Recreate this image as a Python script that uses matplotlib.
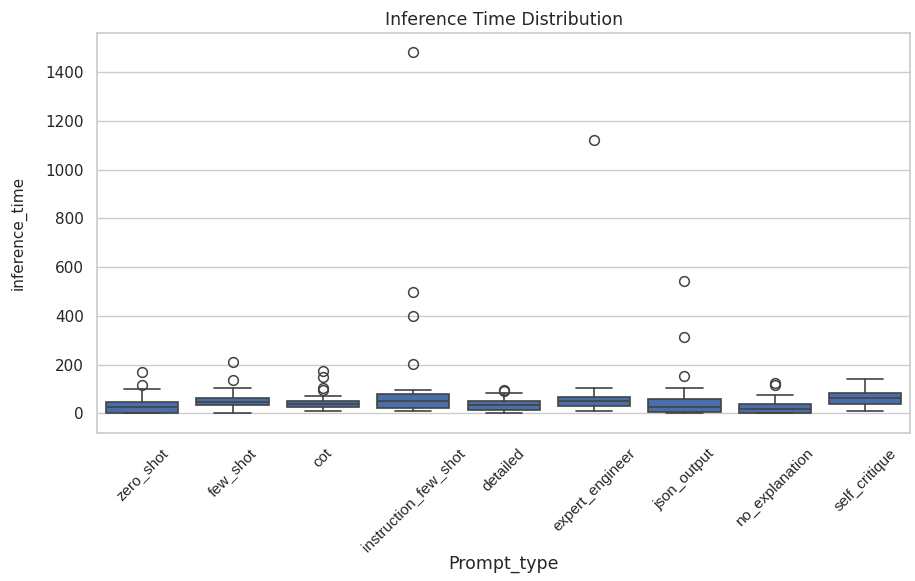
import matplotlib
matplotlib.use('AGG')
import matplotlib.pyplot as plt
import seaborn as sns

# Box statistics (inference time per prompt type)
prompt_types = ['zero_shot', 'few_shot', 'cot', 'instruction_few_shot', 'detailed',
                'expert_engineer', 'json_output', 'no_explanation', 'self_critique']
q1 = [2, 33, 26, 23, 12, 29, 5, 1, 37]
medians = [25, 48, 38, 50, 33, 50, 28, 18, 62]
q3 = [46, 63, 50, 81, 50, 67, 57, 37, 85]
whisker_low = [0, 2, 9, 8, 0, 8, 0, 0, 9]
whisker_high = [98, 105, 71, 97, 83, 104, 105, 77, 139]
outliers = [
    [115, 170],
    [138, 210],
    [97, 105, 150, 175],
    [201, 398, 496, 1484],
    [91, 95],
    [1120],
    [152, 312, 541],
    [115, 125],
    [],
]

sns.set_theme(style='whitegrid')
plt.rcParams['font.family'] = ['DejaVu Sans']

stats = []
for i, name in enumerate(prompt_types):
    stats.append({'label': name, 'q1': q1[i], 'med': medians[i], 'q3': q3[i],
                  'whislo': whisker_low[i], 'whishi': whisker_high[i],
                  'fliers': outliers[i]})

LINECOLOR = '#434343'
BOXCOLOR = '#4a6ea9'

fig = plt.figure(figsize=(9.15, 5.81), dpi=100)
ax = fig.add_axes([0.106, 0.255, 0.889, 0.688])
ax.bxp(stats, positions=range(len(prompt_types)), widths=0.8, patch_artist=True,
       boxprops=dict(facecolor=BOXCOLOR, edgecolor=LINECOLOR, linewidth=1.2),
       medianprops=dict(color=LINECOLOR, linewidth=1.2),
       whiskerprops=dict(color=LINECOLOR, linewidth=1.2),
       capprops=dict(color=LINECOLOR, linewidth=1.2),
       flierprops=dict(marker='o', markerfacecolor='none', markeredgecolor=LINECOLOR,
                       markersize=7, markeredgewidth=1.1))

ax.set_xlim(-0.5, len(prompt_types) - 0.5)
ax.set_ylim(-80, 1560)
ax.set_yticks(range(0, 1401, 200))
ax.xaxis.grid(False)
ax.set_xticks(range(len(prompt_types)))
ax.set_xticklabels(prompt_types, rotation=45, family='Liberation Sans', fontsize=11)
ax.tick_params(axis='y', labelsize=11)
ax.set_title('Inference Time Distribution', fontsize=12.5)
ax.set_xlabel('Prompt_type', fontsize=12.5)
ax.set_ylabel('inference_time', fontsize=11)
ax.xaxis.set_label_coords(0.5, -0.305)
ax.yaxis.set_label_coords(-0.087, 0.5)

plt.savefig('out.png', dpi=100)
